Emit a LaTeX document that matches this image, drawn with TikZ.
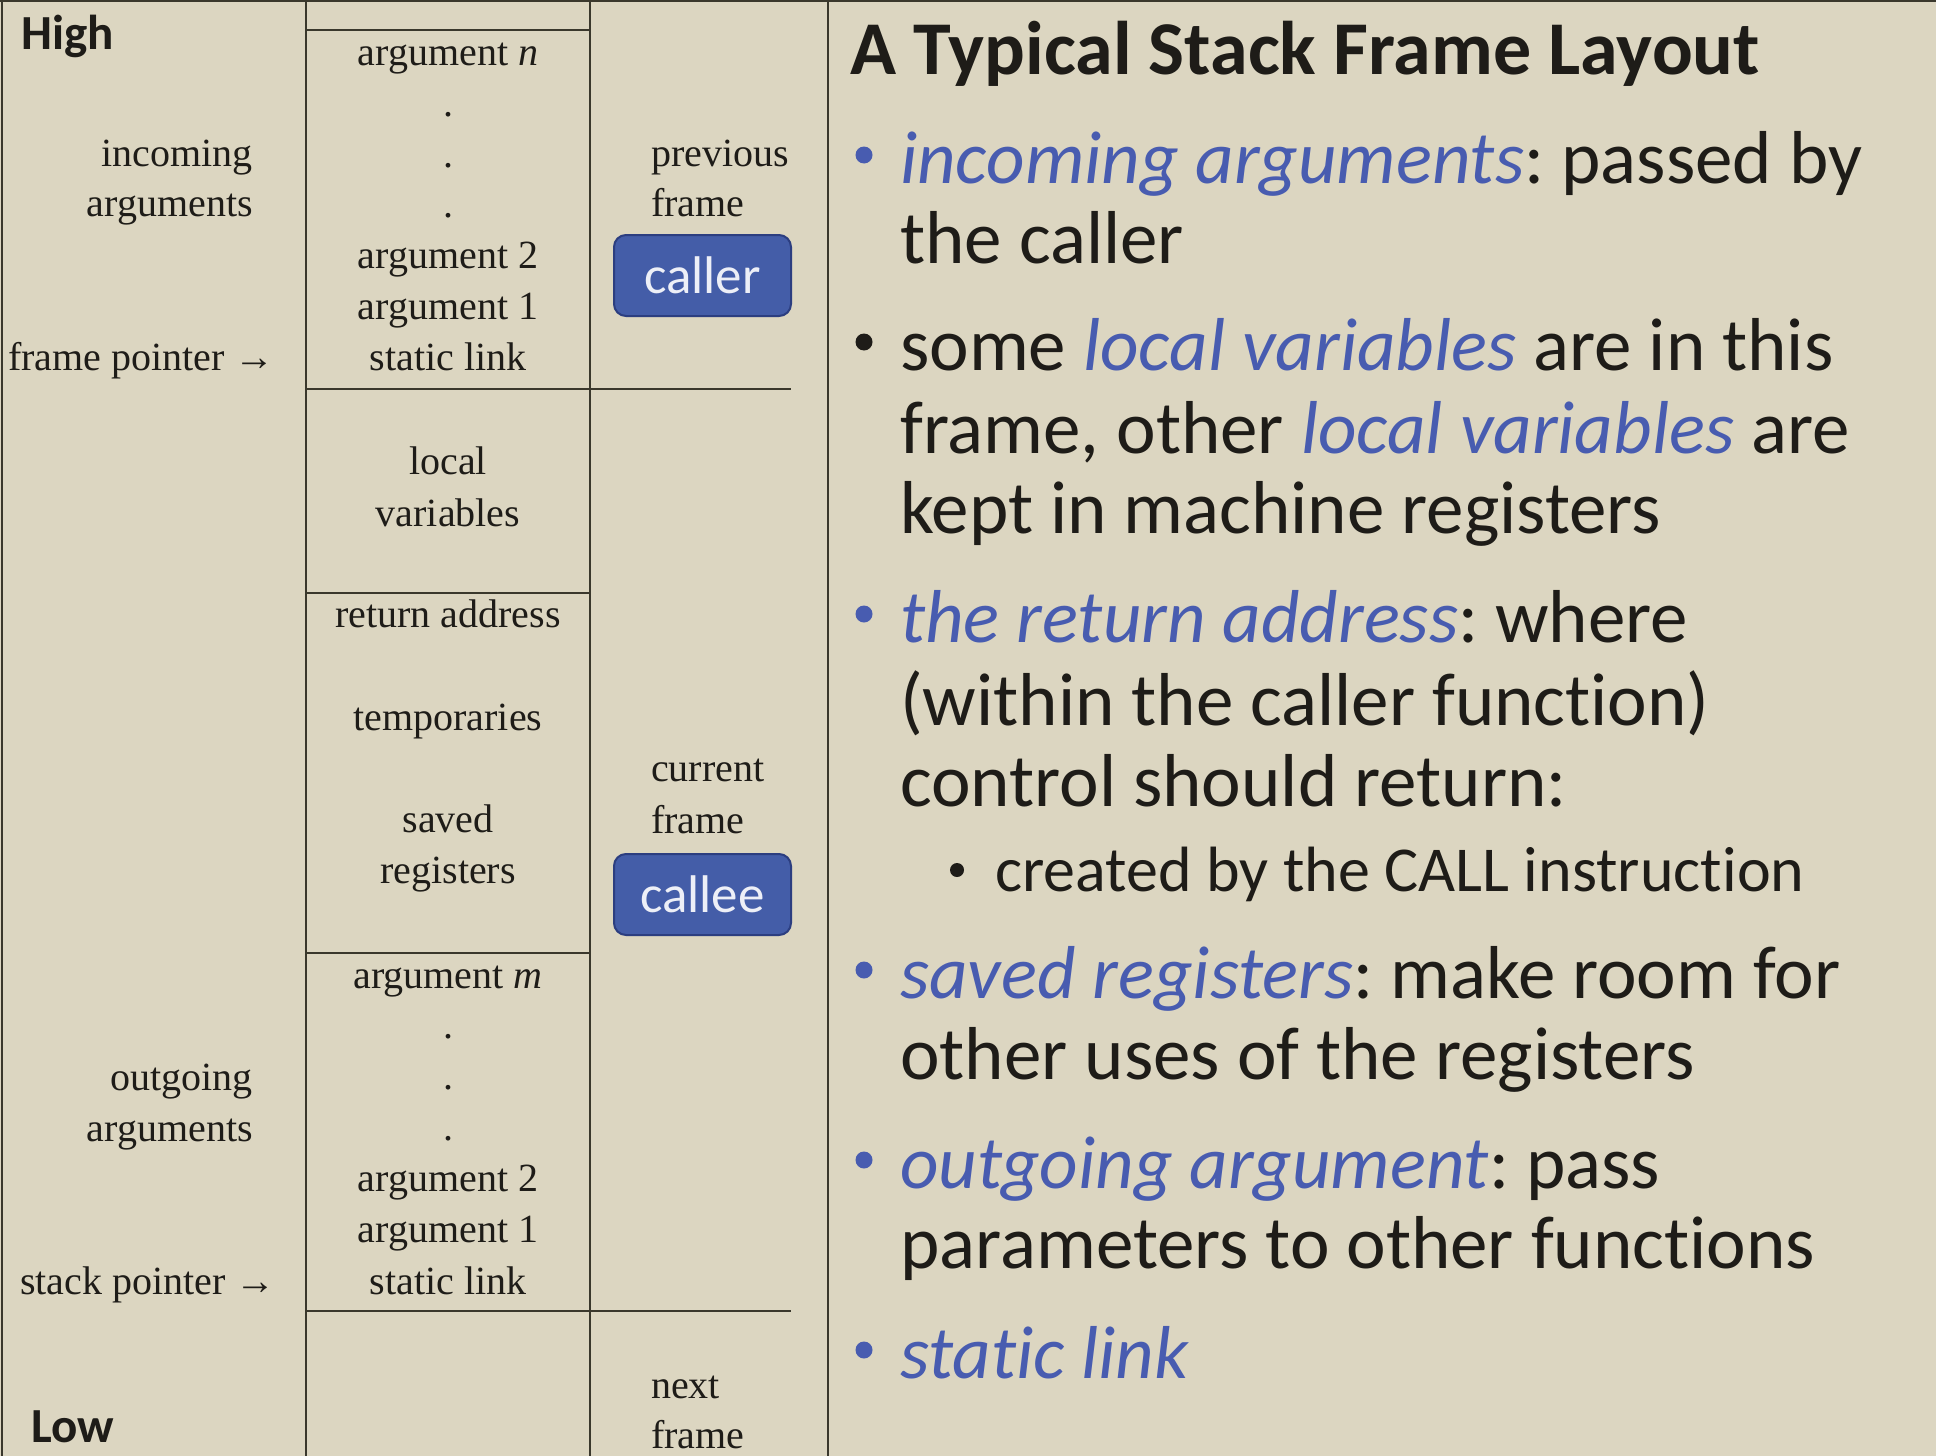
\documentclass[tikz,border=0pt]{standalone}
\usepackage{fontspec}
\setmainfont{Liberation Serif}
\newfontfamily\slidefont[Ligatures=NoCommon]{Carlito}
\definecolor{paper}{RGB}{220,214,193}
\definecolor{ink}{RGB}{30,28,24}
\definecolor{rulecol}{RGB}{58,56,44}
\definecolor{kwblue}{RGB}{72,92,176}
\definecolor{btnfill}{RGB}{68,93,168}
\definecolor{btnedge}{RGB}{44,62,128}
\newcommand{\kw}[1]{\textcolor{kwblue}{\itshape #1}}
\frenchspacing
\tikzset{
  cell/.style={font=\fontsize{40}{48}\selectfont, text=ink, anchor=base, inner sep=0pt},
  side/.style={cell, anchor=base east},
  frm/.style={cell, anchor=base west},
  btn/.style={fill=btnfill, draw=btnedge, line width=2pt, rounded corners=12pt,
    minimum width=177pt, minimum height=81pt, text=white!90!kwblue,
    font=\slidefont\fontsize{53}{60}\selectfont},
  rl/.style={draw=rulecol, line width=2.5pt},
  slide/.style={font=\slidefont\fontsize{75}{82}\selectfont, text=ink, anchor=base west, inner sep=0pt},
  subline/.style={slide, font=\slidefont\fontsize{64}{70}\selectfont},
  hilo/.style={slide, font=\slidefont\bfseries\fontsize{49}{56}\selectfont},
  blt/.style={circle, fill=kwblue, inner sep=0pt, minimum size=17pt},
}
\begin{document}
\begin{tikzpicture}[x=1pt,y=-1pt]
  \fill[paper] (0,0) rectangle (1936,1456);
  \useasboundingbox (0,0) rectangle (1936,1456);

  % table rules
  \draw[rl] (0,1) -- (1936,1);
  \foreach \x in {2,306,590,828}
    \draw[rl] (\x,0) -- (\x,1456);
  \foreach \y in {30,593,953}
    \draw[rl] (306,\y) -- (590,\y);
  \foreach \y in {389,1311}
    \draw[rl] (306,\y) -- (791,\y);

  % left column
  \node[hilo] (high) at (21,49) {High};
  \node[hilo] (low) at (31,1442) {Low};
  \node[side] (inc1) at (253,166) {incoming};
  \node[side] (inc2) at (253,216) {arguments};
  \node[side] (fp) at (275,370) {frame pointer →};
  \node[side] (out1) at (253,1090) {outgoing};
  \node[side] (out2) at (253,1141) {arguments};
  \node[side] (sp) at (276,1294) {stack pointer →};

  % stack cells
  \node[cell] (argn) at (448,65) {argument \textit{n}};
  \foreach \y [count=\i] in {116,167,217}
    \node[cell] (indot\i) at (448,\y) {.};
  \node[cell] (inarg2) at (448,268) {argument 2};
  \node[cell] (inarg1) at (448,319) {argument 1};
  \node[cell] (insl) at (448,370) {static link};
  \node[cell] (loc1) at (448,474) {local};
  \node[cell] (loc2) at (448,526) {variables};
  \node[cell] (ret) at (448,627) {return address};
  \node[cell] (tmp) at (448,730) {temporaries};
  \node[cell] (sav1) at (448,832) {saved};
  \node[cell] (sav2) at (448,883) {registers};
  \node[cell] (argm) at (448,988) {argument \textit{m}};
  \foreach \y [count=\i] in {1038,1089,1140}
    \node[cell] (outdot\i) at (448,\y) {.};
  \node[cell] (outarg2) at (448,1191) {argument 2};
  \node[cell] (outarg1) at (448,1242) {argument 1};
  \node[cell] (outsl) at (448,1294) {static link};

  % frames
  \node[frm] (prev1) at (651,166) {previous};
  \node[frm] (prev2) at (651,216) {frame};
  \node[btn] (caller) at (702.5,275.5) {caller};
  \node[frm] (cur1) at (651,781) {current};
  \node[frm] (cur2) at (651,833) {frame};
  \node[btn] (callee) at (702.5,894.5) {callee};
  \node[frm] (next1) at (651,1398) {next};
  \node[frm] (next2) at (651,1448) {frame};

  % slide text
  \node[slide, font=\slidefont\bfseries\fontsize{76}{84}\selectfont] (title) at (850,74) {A Typical Stack Frame Layout};
  \foreach \y [count=\i] in {183,642,998,1188,1378}
    \node[blt] (blt\i) at (864,\y-28) {};
  \node[blt, fill=ink] (bltb) at (864,342) {};
  \node[blt, fill=ink, minimum size=14pt] (bltsub) at (957,870) {};
  \node[slide] (b1a) at (900,183) {\kw{incoming arguments}: passed by};
  \node[slide] (b1b) at (900,263) {the caller};
  \node[slide] (b2a) at (900,370) {some \kw{local variables} are in this};
  \node[slide] (b2b) at (900,453) {frame, other \kw{local variables} are};
  \node[slide] (b2c) at (900,533) {kept in machine registers};
  \node[slide] (b3a) at (900,642) {\kw{the return address}: where};
  \node[slide] (b3b) at (900,725) {(within the caller function)};
  \node[slide] (b3c) at (900,806) {control should return:};
  \node[subline] (b3d) at (995,891) {created by the CALL instruction};
  \node[slide] (b4a) at (900,998) {\kw{saved registers}: make room for};
  \node[slide] (b4b) at (900,1079) {other uses of the registers};
  \node[slide] (b5a) at (900,1188) {\kw{outgoing argument}: pass};
  \node[slide] (b5b) at (900,1268) {parameters to other functions};
  \node[slide] (b6a) at (900,1378) {\kw{static link}};
\end{tikzpicture}
\end{document}
